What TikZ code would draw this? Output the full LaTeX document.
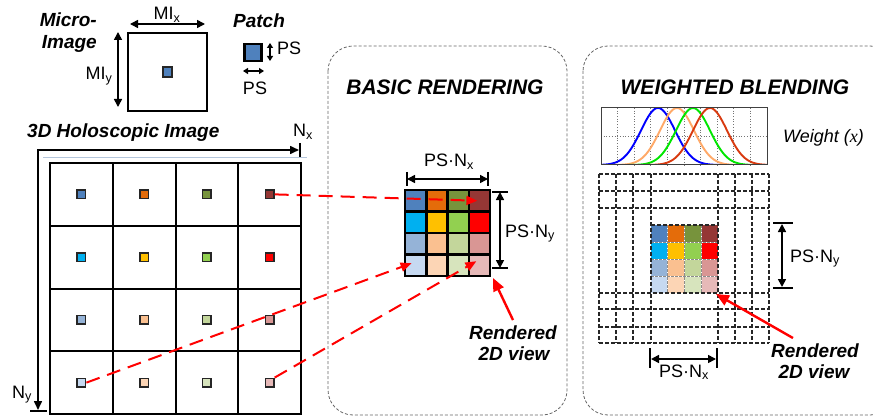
\documentclass[tikz,border=0pt]{standalone}
\usepackage{fontspec}
\setmainfont{Liberation Sans}
\newfontfamily\tnr{Liberation Serif}
\usetikzlibrary{arrows.meta}
\definecolor{c11}{HTML}{4F81BD}\definecolor{c12}{HTML}{E46C0A}\definecolor{c13}{HTML}{77933C}\definecolor{c14}{HTML}{953735}
\definecolor{c21}{HTML}{00B0F0}\definecolor{c22}{HTML}{FFC000}\definecolor{c23}{HTML}{92D050}\definecolor{c24}{HTML}{FF0000}
\definecolor{c31}{HTML}{95B3D7}\definecolor{c32}{HTML}{FAC090}\definecolor{c33}{HTML}{C3D69B}\definecolor{c34}{HTML}{D99694}
\definecolor{c41}{HTML}{C6D9F1}\definecolor{c42}{HTML}{FCD5B5}\definecolor{c43}{HTML}{D7E4BD}\definecolor{c44}{HTML}{E6B9B8}
\definecolor{lsteel}{HTML}{B4C6DC}
\definecolor{gblue}{HTML}{0000FF}\definecolor{gorange}{HTML}{FFA968}\definecolor{ggreen}{HTML}{00E600}\definecolor{gred}{HTML}{D83A10}
\begin{document}
\begin{tikzpicture}[x=1pt,y=-1pt,
  lbl/.style={font=\fontsize{18}{20}\selectfont, inner sep=0, anchor=base},
  ttl/.style={font=\fontsize{19}{20}\selectfont\bfseries\itshape, inner sep=0, anchor=base},
  bigttl/.style={font=\fontsize{21}{24}\selectfont\bfseries\itshape, inner sep=0, anchor=base},
  gpatch/.style={draw=black!85, line width=1.6, minimum size=8.5pt, inner sep=0},
  bcell/.style={minimum width=21.25pt, minimum height=21.5pt, inner sep=0, outer sep=0},
  wcell/.style={minimum width=16.75pt, minimum height=17pt, inner sep=0, outer sep=0},
  dimarrow/.style={line width=1.6, {Triangle[length=8pt,width=8pt]}-{Triangle[length=8pt,width=8pt]}},
  smalldim/.style={line width=1.4, {Triangle[length=5pt,width=6pt]}-{Triangle[length=5pt,width=6pt]}},
  bar/.style={line width=1.6},
  reddash/.style={red, line width=2, dash pattern=on 14pt off 8pt, -{Triangle[length=11pt,width=9pt]}},
  redarrow/.style={red, line width=2.4, -{Triangle[length=13pt,width=11pt]}},
  panel/.style={draw=black!60, line width=0.8, dash pattern=on 3pt off 2pt, rounded corners=25pt},
  wgrid/.style={black!85, line width=1.3, dash pattern=on 4pt off 2pt},
  curve/.style={line width=1.9, samples=80, smooth}
]
\useasboundingbox (0,0) rectangle (873,417);

% ---------- panels ----------
\draw[panel] (328,46) rectangle (567,415);
\draw[panel] (583,46) rectangle (895,415);
\node[bigttl] (tbasic) at (445,95) {BASIC RENDERING};
\node[bigttl] (tweight) at (735,95) {WEIGHTED BLENDING};

% ---------- micro-image ----------
\node[ttl, anchor=base east] (tmicro) at (97,27) {Micro-};
\node[ttl, anchor=base east] (timage) at (97,49) {Image};
\node[draw, line width=1.2, minimum width=79pt, minimum height=78pt, inner sep=0] (mi) at (167.5,72) {};
\node[gpatch, fill=c11, minimum size=9.5pt] (mip) at (mi.center) {};
\draw[dimarrow] (130,24) -- (205,24);
\node[lbl] (mix) at (167,20) {MI\textsubscript{x}};
\draw[dimarrow] (118,32) -- (118,107);
\node[lbl] (miy) at (99,80) {MI\textsubscript{y}};

% ---------- patch ----------
\node[ttl] (tpatch) at (259,27.3) {Patch};
\node[draw, line width=2.6, fill=c11, minimum size=17pt, inner sep=0] (pp) at (253,52.5) {};
\draw[smalldim] (270,43) -- (270,61);
\node[lbl, anchor=base west] (psv) at (277,55) {PS};
\draw[smalldim] (243,71) -- (264,71);
\node[lbl] (psh) at (255,95) {PS};

% ---------- 3D holoscopic image ----------
\node[ttl, anchor=base west] (tholo) at (27,138) {3D Holoscopic Image};
\node[lbl, anchor=base west] (nx) at (293,137) {N\textsubscript{x}};
\node[lbl, anchor=base west] (ny) at (12,398) {N\textsubscript{y}};
\coordinate (corner) at (38,150);
\coordinate (nxend) at (299,150);
\coordinate (nyend) at (38,410);
\draw[line width=1.6, {Triangle[length=9pt,width=8pt]}-{Triangle[length=9pt,width=8pt]}, line join=miter] (nyend) -- (corner) -- (nxend);
\draw[bar] (300,143) -- (300,158);
\draw[bar] (30,411) -- (47,411);
\draw[lsteel, line width=0.8] (43,157) -- (307,157);

\foreach \i in {0,...,4} {
  \draw[line width=2, line cap=rect] ({50+62.75*\i},163) -- ({50+62.75*\i},414);
  \draw[line width=2, line cap=rect] (50,{163+62.75*\i}) -- (301,{163+62.75*\i});
}
\foreach \r in {1,...,4} \foreach \c in {1,...,4}
  \node[gpatch, fill=c\r\c] (p\r\c) at ({50+62.75*(\c-0.5)},{163+62.75*(\r-0.5)}) {};

% ---------- basic rendering ----------
\foreach \r in {1,...,4} \foreach \c in {1,...,4}
  \node[bcell, fill=c\r\c] (b\r\c) at ({405+21.25*(\c-0.5)},{190+21.5*(\r-0.5)}) {};
\foreach \i in {0,...,4} {
  \draw[line width=2.5, line cap=rect] ({405+21.25*\i},190) -- ({405+21.25*\i},276);
  \draw[line width=2.5, line cap=rect] (405,{190+21.5*\i}) -- (490,{190+21.5*\i});
}
\draw[dimarrow] (407,179) -- (488,179);
\draw[bar] (407,172) -- (407,186);
\draw[bar] (488,172) -- (488,186);
\node[lbl] (bnx) at (449,167) {PS·N\textsubscript{x}};
\draw[dimarrow] (500,192) -- (500,268);
\draw[bar] (492,192) -- (508,192);
\draw[bar] (492,268) -- (508,268);
\node[lbl, anchor=base west] (bny) at (505,237) {PS·N\textsubscript{y}};

\draw[reddash] (p14.east) -- ([xshift=-2pt]b14.center);
\draw[reddash] (p41.east) -- ([xshift=-4pt,yshift=2pt]b41.center);
\draw[reddash] (p44.north east) -- ([xshift=-3pt,yshift=4pt]b44.center);

\node[ttl] (rend1) at (513,339) {Rendered};
\node[ttl] (rend1b) at (514,360) {2D view};
\draw[redarrow] ([yshift=5pt]rend1.north) -- ([xshift=3pt,yshift=-2pt]b44.south east);

% ---------- weighted blending ----------
\foreach \k in {1,...,9}
  \draw[black!55, dotted, line width=0.7] ({601+16.6*\k},108) -- ({601+16.6*\k},165);
\draw[black!55, dotted, line width=0.7] (601,136.5) -- (767,136.5);
\begin{scope}
\clip (601,108) rectangle (767,165);
\draw[gblue, curve] plot[domain=601:726] (\x, {165-57*exp(-((\x-658)^2)/578)});
\draw[gorange, curve] plot[domain=609:745] (\x, {165-57*exp(-((\x-677)^2)/578)});
\draw[ggreen, curve] plot[domain=625:761] (\x, {165-57*exp(-((\x-693)^2)/578)});
\draw[gred, curve] plot[domain=642:767] (\x, {165-57*exp(-((\x-710)^2)/578)});
\end{scope}
\node[draw=black!75, line width=1, minimum width=166pt, minimum height=57pt, inner sep=0] (chart) at (684,136.5) {};
\node[lbl, anchor=base west, font=\fontsize{18}{20}\selectfont\itshape] (wlab) at (783,143) {Weight ({\tnr\itshape x})};

\foreach \r in {1,...,4} \foreach \c in {1,...,4}
  \node[wcell, fill=c\r\c] (w\r\c) at ({651+16.75*(\c-0.5)},{225+17*(\r-0.5)}) {};
\foreach \i in {1,2,3} {
  \draw[white, line width=0.8] ({651+16.75*\i},225) -- ({651+16.75*\i},293);
  \draw[white, line width=0.8] (651,{225+17*\i}) -- (718,{225+17*\i});
  \draw[black!45, line width=0.6, dash pattern=on 2.5pt off 1.5pt] ({651+16.75*\i},225) -- ({651+16.75*\i},293);
  \draw[black!45, line width=0.6, dash pattern=on 2.5pt off 1.5pt] (651,{225+17*\i}) -- (718,{225+17*\i});
}
\foreach \x in {599,616,633,651,718,735,752,769} \draw[wgrid] (\x,174) -- (\x,343);
\foreach \y in {174,191,208,293,309,327,343} \draw[wgrid] (599,\y) -- (769,\y);
\draw[wgrid] (651,225) -- (718,225);

\draw[dimarrow] (782,224) -- (782,287);
\draw[bar] (773,223) -- (793,223);
\draw[bar] (773,288) -- (793,288);
\node[lbl, anchor=base west] (wny) at (790,262) {PS·N\textsubscript{y}};
\draw[dimarrow] (651,359) -- (716,359);
\draw[bar] (650,348) -- (650,368);
\draw[bar] (717,348) -- (717,368);
\node[lbl] (wnx) at (684,377) {PS·N\textsubscript{x}};

\node[ttl] (rend2) at (815,357) {Rendered};
\node[ttl] (rend2b) at (814,378) {2D view};
\draw[redarrow] ([xshift=-22pt,yshift=5pt]rend2.north) -- ([xshift=-2pt,yshift=-1pt]w44.south east);
\end{tikzpicture}
\end{document}
